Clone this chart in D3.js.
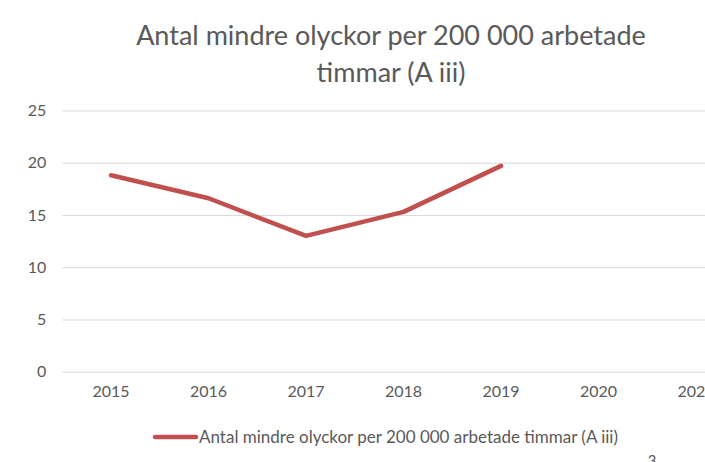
<!DOCTYPE html>
<html>
<head>
<meta charset="utf-8">
<script src="https://cdnjs.cloudflare.com/ajax/libs/d3/7.8.5/d3.min.js"></script>
<style>
  body { margin: 0; background: #fff; }
  svg { display: block; font-family: Lato, "Open Sans", sans-serif; }
</style>
</head>
<body>
<svg id="chart" width="705" height="462"></svg>
<script>
// chart values
var years = ["2015", "2016", "2017", "2018", "2019", "2020", "2021"];
var values = [18.8, 16.6, 13.0, 15.3, 19.7];
var yTicks = [0, 5, 10, 15, 20, 25];
var titleLines = ["Antal mindre olyckor per 200 000 arbetade", "timmar (A iii)"];
var seriesName = "Antal mindre olyckor per 200 000 arbetade timmar (A iii)";

var svg = d3.select("#chart");
var textColor = "#595959";
var lineColor = "#c0504d";

// plot area runs past the right edge, like the clipped original
var x = d3.scaleBand().domain(years).range([62.3, 62.3 + 97.5 * years.length]);
var y = d3.scaleLinear().domain([0, 25]).range([371.7, 110.5]);

// title
svg.append("g").selectAll("text")
  .data(titleLines)
  .enter().append("text")
  .attr("x", 391)
  .attr("y", function (d, i) { return 45 + i * 37; })
  .attr("text-anchor", "middle")
  .attr("fill", textColor)
  .style("font-size", "27px")
  .text(function (d) { return d; });

// gridlines
svg.append("g").selectAll("line")
  .data(yTicks)
  .enter().append("line")
  .attr("x1", x.range()[0])
  .attr("x2", 705)
  .attr("y1", function (d) { return y(d) + 0.5; })
  .attr("y2", function (d) { return y(d) + 0.5; })
  .attr("stroke", "#d9d9d9")
  .attr("stroke-width", 1);

// y axis labels
var yAxis = d3.axisLeft(y).tickValues(yTicks).tickSize(0).tickPadding(16);
var yAxisG = svg.append("g")
  .attr("transform", "translate(" + x.range()[0] + ",0)")
  .call(yAxis);
yAxisG.select(".domain").remove();
yAxisG.selectAll("text")
  .attr("fill", textColor)
  .style("font-size", "16px")
  .style("font-family", "Lato, 'Open Sans', sans-serif");

// x axis labels
var xAxis = d3.axisBottom(x).tickSize(0).tickPadding(14);
var xAxisG = svg.append("g")
  .attr("transform", "translate(0," + y(0) + ")")
  .call(xAxis);
xAxisG.select(".domain").remove();
xAxisG.selectAll("text")
  .attr("fill", textColor)
  .style("font-size", "16px")
  .style("font-family", "Lato, 'Open Sans', sans-serif");

// series line
var line = d3.line()
  .x(function (d, i) { return x(years[i]) + x.bandwidth() / 2; })
  .y(function (d) { return y(d); });

svg.append("path")
  .datum(values)
  .attr("d", line)
  .attr("fill", "none")
  .attr("stroke", lineColor)
  .attr("stroke-width", 4.5)
  .attr("stroke-linecap", "round")
  .attr("stroke-linejoin", "round");

// legend
var legend = svg.append("g");
legend.append("line")
  .attr("x1", 155).attr("x2", 196)
  .attr("y1", 437).attr("y2", 437)
  .attr("stroke", lineColor)
  .attr("stroke-width", 4.5)
  .attr("stroke-linecap", "round");
legend.append("text")
  .attr("x", 199)
  .attr("y", 443)
  .attr("fill", textColor)
  .style("font-size", "17px")
  .text(seriesName);

// page number peeking in at the bottom
svg.append("text")
  .attr("x", 652)
  .attr("y", 466)
  .attr("text-anchor", "middle")
  .attr("fill", textColor)
  .style("font-size", "15px")
  .text("3");
</script>
</body>
</html>
